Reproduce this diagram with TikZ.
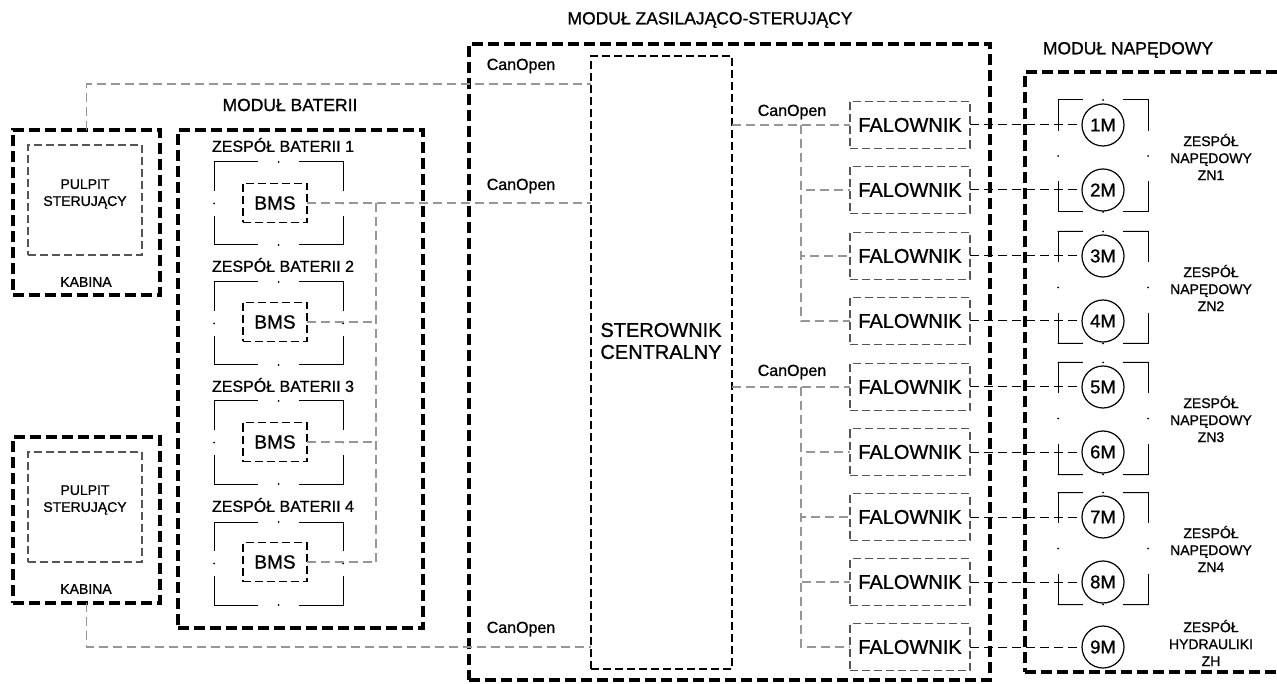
\documentclass[tikz,border=0pt]{standalone}
\usepackage{fontspec}
\setmainfont{Liberation Sans}[RawFeature={embolden=1}]
\usetikzlibrary{calc}
\definecolor{busgray}{RGB}{150,150,150}
\definecolor{boxgray}{RGB}{85,85,85}

% corner frame with a gap and a dot in the middle of each side
\newcommand{\gapframe}[2]{%
  \foreach \a/\b in {north west/north east,north east/south east,south east/south west,south west/north west}{
    \draw[line width=1pt, line cap=rect] (#1.\a) -- ($(#1.\a)!#2!(#1.\b)$)
      ($(#1.\b)!#2!(#1.\a)$) -- (#1.\b);
    \fill ($(#1.\a)!0.5!(#1.\b)$) circle (1pt);
  }}

\tikzset{
  module/.style={draw, line width=3.5pt, dash pattern=on 11pt off 5pt, outer sep=0pt},
  unitbox/.style={draw, line width=1.1pt, dash pattern=on 8pt off 4pt, outer sep=0pt},
  deskbox/.style={draw=boxgray, line width=1.1pt, dash pattern=on 8pt off 4pt, minimum width=114pt, minimum height=110pt, outer sep=0pt},
  bmsbox/.style={unitbox, minimum width=64pt, minimum height=39pt, font=\fontsize{19}{22}\selectfont},
  inverter/.style={draw=boxgray, line width=1.2pt, dash pattern=on 8pt off 4pt, minimum width=120pt, minimum height=47pt, outer sep=0pt, font=\fontsize{20}{24}\selectfont},
  motor/.style={draw, circle, line width=1.2pt, minimum size=42pt, inner sep=0pt, outer sep=0pt, font=\fontsize{18.5}{20}\selectfont},
  frame/.style={minimum width=#1, outer sep=0pt, inner sep=0pt},
  bus/.style={draw=busgray, line width=1.6pt, dash pattern=on 9pt off 5pt},
  feed/.style={draw, line width=1pt, dash pattern=on 9pt off 5pt},
  title/.style={font=\fontsize{17.5}{20}\selectfont},
  packlabel/.style={font=\fontsize{16}{19}\selectfont},
  small/.style={align=center, font=\fontsize{14}{17}\selectfont},
  busname/.style={font=\fontsize{16}{19}\selectfont}
}

\begin{document}
\begin{tikzpicture}[x=1pt, y=-1pt]
    \useasboundingbox (0,0) rectangle (1277,684);

    % Kabiny
    \node[module, minimum width=147pt, minimum height=165pt] (cab1) at (86.5,212.5) {};
    \node[deskbox] (desk1) at (85,200) {};
    \node[small] (desktxt1) at (85,194) {PULPIT\\STERUJĄCY};
    \node[small] (cabtxt1) at (86,282) {KABINA};

    \node[module, minimum width=147pt, minimum height=166pt] (cab2) at (86.5,520) {};
    \node[deskbox] (desk2) at (85,507) {};
    \node[small] (desktxt2) at (85,500) {PULPIT\\STERUJĄCY};
    \node[small] (cabtxt2) at (86,589) {KABINA};

    % Modul baterii
    \node[title] (battitle) at (290,105) {MODUŁ BATERII};
    \node[module, minimum width=245pt, minimum height=498pt] (modbat) at (300.5,379) {};

    \node[packlabel] (packtxt1) at (283,145) {ZESPÓŁ BATERII 1};
    \node[frame=129pt, minimum height=83pt] (pack1) at (278.5,203.5) {};
    \node[bmsbox] (bms1) at (275,203) {BMS};
    \gapframe{pack1}{0.34}

    \node[packlabel] (packtxt2) at (283,265) {ZESPÓŁ BATERII 2};
    \node[frame=129pt, minimum height=83pt] (pack2) at (278.5,323.5) {};
    \node[bmsbox] (bms2) at (275,322) {BMS};
    \gapframe{pack2}{0.34}

    \node[packlabel] (packtxt3) at (283,385) {ZESPÓŁ BATERII 3};
    \node[frame=129pt, minimum height=83pt] (pack3) at (278.5,442.5) {};
    \node[bmsbox] (bms3) at (275,442) {BMS};
    \gapframe{pack3}{0.34}

    \node[packlabel] (packtxt4) at (283,505) {ZESPÓŁ BATERII 4};
    \node[frame=129pt, minimum height=83pt] (pack4) at (278.5,563.5) {};
    \node[bmsbox] (bms4) at (275,562) {BMS};
    \gapframe{pack4}{0.34}

    % Modul zasilajaco-sterujacy
    \node[title] (pwrtitle) at (710,20) {MODUŁ ZASILAJĄCO-STERUJĄCY};
    \node[module, minimum width=521pt, minimum height=636pt] (modpwr) at (729.5,362) {};
    \node[unitbox, minimum width=141pt, minimum height=613pt] (stc) at (661.5,362.5) {};
    \node[align=center, font=\fontsize{20}{22}\selectfont] (stctxt) at (661,341) {STEROWNIK\\CENTRALNY};

    \node[busname] (canA) at (521,66) {CanOpen};
    \node[busname] (canB) at (521,186) {CanOpen};
    \node[busname] (canC) at (521,629) {CanOpen};
    \node[busname] (canD) at (792,112) {CanOpen};
    \node[busname] (canE) at (792,372) {CanOpen};

    \node[inverter] (fal1) at (910,125) {FALOWNIK};
    \node[inverter] (fal2) at (910,190) {FALOWNIK};
    \node[inverter] (fal3) at (910,256) {FALOWNIK};
    \node[inverter] (fal4) at (910,321) {FALOWNIK};
    \node[inverter] (fal5) at (910,387) {FALOWNIK};
    \node[inverter] (fal6) at (910,452) {FALOWNIK};
    \node[inverter] (fal7) at (910,517) {FALOWNIK};
    \node[inverter] (fal8) at (910,582) {FALOWNIK};
    \node[inverter] (fal9) at (910,647) {FALOWNIK};

    % Modul napedowy
    \node[title] (drvtitle) at (1128,50) {MODUŁ NAPĘDOWY};
    \node[module, minimum width=274pt, minimum height=600pt] (moddrv) at (1162,372) {};

    \node[frame=90pt, minimum height=112pt] (pair1) at (1103,156) {};
    \node[frame=90pt, minimum height=112pt] (pair2) at (1103,287.5) {};
    \node[frame=90pt, minimum height=112pt] (pair3) at (1103,418.5) {};
    \node[frame=90pt, minimum height=112pt] (pair4) at (1103,548.5) {};
    \gapframe{pair1}{0.27}
    \gapframe{pair2}{0.27}
    \gapframe{pair3}{0.27}
    \gapframe{pair4}{0.27}

    \node[motor, fill=white] (m1) at (1103,125) {1M};
    \node[motor, fill=white] (m2) at (1103,190) {2M};
    \node[motor, fill=white] (m3) at (1103,256) {3M};
    \node[motor, fill=white] (m4) at (1103,321) {4M};
    \node[motor, fill=white] (m5) at (1103,387) {5M};
    \node[motor, fill=white] (m6) at (1103,452) {6M};
    \node[motor, fill=white] (m7) at (1103,517) {7M};
    \node[motor, fill=white] (m8) at (1103,582) {8M};
    \node[motor, fill=white] (m9) at (1103,647) {9M};

    \node[small] (zn1) at (1211,157) {ZESPÓŁ\\NAPĘDOWY\\ZN1};
    \node[small] (zn2) at (1211,288) {ZESPÓŁ\\NAPĘDOWY\\ZN2};
    \node[small] (zn3) at (1211,419) {ZESPÓŁ\\NAPĘDOWY\\ZN3};
    \node[small] (zn4) at (1211,549) {ZESPÓŁ\\NAPĘDOWY\\ZN4};
    \node[small] (zh) at (1211,643) {ZESPÓŁ\\HYDRAULIKI\\ZH};

    % CanOpen - kabiny i baterie
    \coordinate (tapA) at (591,84);
    \coordinate (tapC) at (591,647);
    \coordinate (bmsbus) at (376,203);
    \draw[bus] (cab1.north) |- (tapA);
    \draw[bus] (cab2.south) |- (tapC);
    \draw[bus] (bms1.east) -- (bms1.east -| stc.west);
    \draw[bus] (bmsbus) -- (bmsbus |- bms4.east);
    \draw[bus] (bms2.east) -- (bms2.east -| bmsbus);
    \draw[bus] (bms3.east) -- (bms3.east -| bmsbus);
    \draw[bus] (bms4.east) -- (bms4.east -| bmsbus);

    % CanOpen - falowniki
    \coordinate (invbusA) at (801,125);
    \coordinate (invbusB) at (801,387);
    \draw[bus] (stc.east |- fal1.west) -- (fal1.west);
    \draw[bus] (invbusA) |- (fal2.west);
    \draw[bus] (invbusA) |- (fal3.west);
    \draw[bus] (invbusA) |- (fal4.west);
    \draw[bus] (stc.east |- fal5.west) -- (fal5.west);
    \draw[bus] (invbusB) |- (fal6.west);
    \draw[bus] (invbusB) |- (fal7.west);
    \draw[bus] (invbusB) |- (fal8.west);
    \draw[bus] (invbusB) |- (fal9.west);

    % Zasilanie silnikow
    \draw[feed] (fal1.east) -- (m1.west);
    \draw[feed] (fal2.east) -- (m2.west);
    \draw[feed] (fal3.east) -- (m3.west);
    \draw[feed] (fal4.east) -- (m4.west);
    \draw[feed] (fal5.east) -- (m5.west);
    \draw[feed] (fal6.east) -- (m6.west);
    \draw[feed] (fal7.east) -- (m7.west);
    \draw[feed] (fal8.east) -- (m8.west);
    \draw[feed] (fal9.east) -- (m9.west);
\end{tikzpicture}
\end{document}
